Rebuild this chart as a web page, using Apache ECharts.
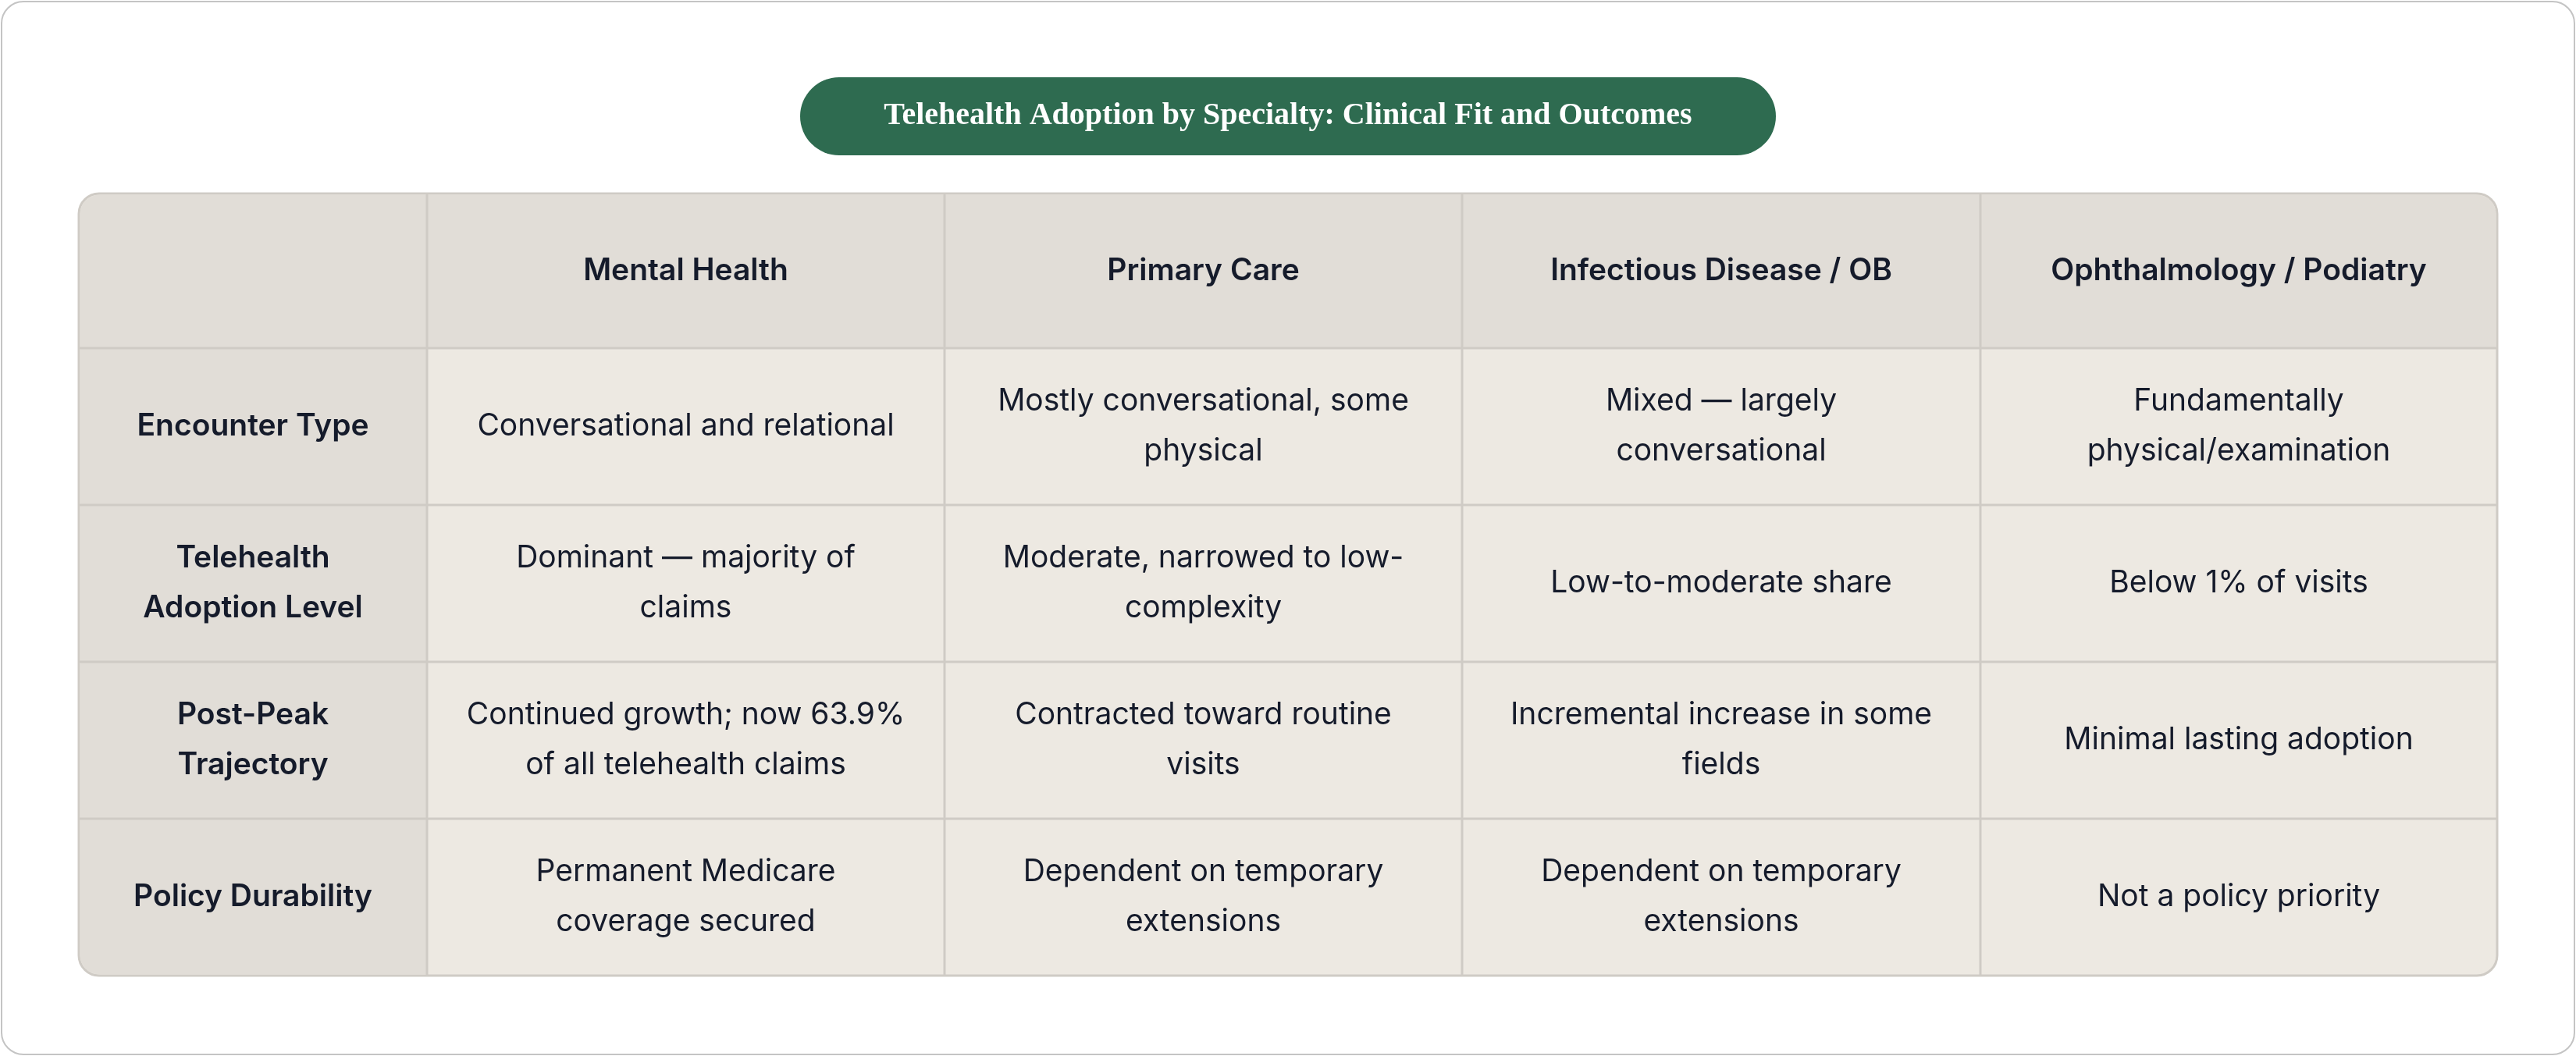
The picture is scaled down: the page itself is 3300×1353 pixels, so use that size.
<!DOCTYPE html>
<html><head><meta charset="utf-8">
<script src="https://cdn.jsdelivr.net/npm/echarts@6/dist/echarts.min.js"></script>
<style>html,body{margin:0;padding:0;background:#fff}#c{width:3300px;height:1353px}</style>
</head><body><div id="c"></div>
<script>
const title = 'Telehealth Adoption by Specialty: Clinical Fit and Outcomes';
const columns = ['Mental Health', 'Primary Care', 'Infectious Disease / OB', 'Ophthalmology / Podiatry'];
const rowLabels = ['Encounter Type', 'Telehealth\nAdoption Level', 'Post-Peak\nTrajectory', 'Policy Durability'];
const cellsEncounter = ['Conversational and relational', 'Mostly conversational, some\nphysical', 'Mixed \u2014 largely\nconversational', 'Fundamentally\nphysical/examination'];
const cellsAdoption = ['Dominant \u2014 majority of\nclaims', 'Moderate, narrowed to low-\ncomplexity', 'Low-to-moderate share', 'Below 1% of visits'];
const cellsTrajectory = ['Continued growth; now 63.9%\nof all telehealth claims', 'Contracted toward routine\nvisits', 'Incremental increase in some\nfields', 'Minimal lasting adoption'];
const cellsPolicy = ['Permanent Medicare\ncoverage secured', 'Dependent on temporary\nextensions', 'Dependent on temporary\nextensions', 'Not a policy priority'];
const cells = [cellsEncounter, cellsAdoption, cellsTrajectory, cellsPolicy];

const chart = echarts.init(document.getElementById('c'), null, {renderer: 'canvas'});
const colX = [101, 547, 1210, 1873, 2537, 3199];
const rowY = [248, 446, 647, 848, 1049, 1250];
const border = '#cfcbc5', hdr = '#e1ddd7', body = '#ede9e2', ink = '#151b2b';
const F = 'Inter, "Noto Sans", sans-serif';
const g = [];
g.push({type:'rect', shape:{x:2,y:2,width:3296,height:1349,r:28}, style:{fill:'#fff', stroke:'#c4c4c4', lineWidth:2}});
g.push({type:'rect', shape:{x:1025,y:99,width:1250,height:100,r:50}, style:{fill:'#2e6b50'}});
g.push({type:'text', x:1650, y:149, style:{text:title, fill:'#fff', font:'bold 40px "Liberation Serif", "DejaVu Serif", serif', align:'center', verticalAlign:'middle'}});
// table base with rounded corners
g.push({type:'rect', shape:{x:colX[0],y:rowY[0],width:colX[5]-colX[0],height:rowY[5]-rowY[0],r:26}, style:{fill:body, stroke:border, lineWidth:3}, z:1});
// header row and first column backgrounds
g.push({type:'rect', shape:{x:colX[0]+1.5,y:rowY[0]+1.5,width:colX[5]-colX[0]-3,height:rowY[1]-rowY[0]-1.5,r:[25,25,0,0]}, style:{fill:hdr}, z:2});
g.push({type:'rect', shape:{x:colX[0]+1.5,y:rowY[1],width:colX[1]-colX[0]-1.5,height:rowY[5]-rowY[1]-1.5,r:[0,0,0,25]}, style:{fill:hdr}, z:2});
for (let i = 1; i < 5; i++) {
  g.push({type:'line', shape:{x1:colX[i],y1:rowY[0]+1,x2:colX[i],y2:rowY[5]-1}, style:{stroke:border, lineWidth:3}, z:3});
  g.push({type:'line', shape:{x1:colX[0]+1,y1:rowY[i],x2:colX[5]-1,y2:rowY[i]}, style:{stroke:border, lineWidth:3}, z:3});
}
const txt = (s, cx, cy, bold) => ({type:'text', x:cx, y:cy, z:5, style:{text:s, fill:ink, font:(bold?'600 ':'400 ')+'39px '+F, align:'center', verticalAlign:'middle', lineHeight:64}});
columns.forEach((c, j) => g.push(txt(c, (colX[j+1]+colX[j+2])/2, (rowY[0]+rowY[1])/2, true)));
rowLabels.forEach((r, i) => {
  const cy = (rowY[i+1]+rowY[i+2])/2;
  g.push(txt(r, (colX[0]+colX[1])/2, cy, true));
  cells[i].forEach((s, j) => g.push(txt(s, (colX[j+1]+colX[j+2])/2, cy, false)));
});
chart.setOption({animation:false, graphic:{elements:g}});
</script></body></html>
